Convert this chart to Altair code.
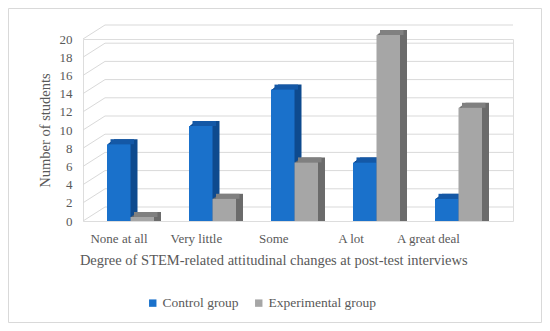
import altair as alt
import pandas as pd

categories = ["None at all", "Very little", "Some", "A lot", "A great deal"]
groups = ["Control group", "Experimental group"]
control = [8, 10, 14, 6, 2]
experimental = [0, 2, 6, 20, 12]
y_ticks = [0, 2, 4, 6, 8, 10, 12, 14, 16, 18, 20]

front_colors = ["#1A71CB", "#A6A6A6"]
top_colors = ["#1458A6", "#808080"]
side_colors = ["#0E4A8E", "#6B6B6B"]

rows = []
for c, a, b in zip(categories, control, experimental):
    rows.append({"category": c, "group": groups[0], "value": a})
    rows.append({"category": c, "group": groups[1], "value": b})
df = pd.DataFrame(rows)
grid = pd.DataFrame({"v": y_ticks})
labels_df = pd.DataFrame({"category": categories})
one = pd.DataFrame({"a": [0]})

FONT = "Liberation Serif"
TXT = "#595959"
GRID = "#D9D9D9"

W, H = 430, 182
PAD_L, PAD_T = 75, 31
TOTAL_W, TOTAL_H = 534, 315
DEPTH_X, DEPTH_Y = 22, 14
BASE = -4
BDX, BDY = 7, 5

yscale = alt.Scale(domain=[0, 20], nice=False, zero=True)
xscales = [
    alt.Scale(domain=categories, range=[24, 375.5], paddingInner=0.7134, paddingOuter=0),
    alt.Scale(domain=categories, range=[47.5, 399], paddingInner=0.7134, paddingOuter=0),
]
label_scale = alt.Scale(domain=categories, range=[-3.2, 383.7], paddingInner=0, paddingOuter=0)


def yaxis():
    return alt.Axis(title="Number of students", values=y_ticks, domain=False, ticks=False,
                    grid=False, labelPadding=11, labelFontSize=13, titleFontSize=14.5,
                    titlePadding=7, labelColor=TXT, titleColor=TXT, labelFont=FONT,
                    titleFont=FONT, titleFontWeight="normal", orient="left")


def legend():
    return alt.Legend(title=None, orient="none", legendX=63, legendY=257, direction="horizontal",
                      symbolType="square", symbolSize=55, symbolStrokeWidth=0,
                      labelFontSize=13.5, labelFont=FONT, labelColor=TXT, columnPadding=13,
                      labelOffset=3)


layers = []

# outer border
layers.append(
    alt.Chart(one).mark_rect(fillOpacity=0, stroke=GRID, strokeWidth=1).encode(
        x=alt.value(-PAD_L + 0.5), x2=alt.value(TOTAL_W - PAD_L - 0.5),
        y=alt.value(-PAD_T + 0.5), y2=alt.value(TOTAL_H - PAD_T - 0.5),
    )
)

# back wall gridlines
layers.append(
    alt.Chart(grid).mark_rule(color=GRID, strokeWidth=1, yOffset=-DEPTH_Y).encode(
        x=alt.value(DEPTH_X), x2=alt.value(W),
        y=alt.Y("v:Q", scale=yscale, axis=yaxis()),
    )
)
# side wall diagonals
layers.append(
    alt.Chart(grid).mark_rule(color=GRID, strokeWidth=1, y2Offset=-DEPTH_Y).encode(
        x=alt.value(0), x2=alt.value(DEPTH_X),
        y=alt.Y("v:Q", scale=yscale, axis=yaxis()), y2=alt.Y2("v:Q"),
    )
)

# invisible layer carrying the category axis
layers.append(
    alt.Chart(labels_df).mark_point(opacity=0).encode(
        x=alt.X("category:N", sort=categories, scale=label_scale,
                axis=alt.Axis(title="Degree of STEM-related attitudinal changes at post-test interviews",
                              domain=False, ticks=False, labelAngle=0, labelPadding=11,
                              labelFontSize=13, titleFontSize=14.5, titlePadding=8,
                              labelColor=TXT, titleColor=TXT, labelFont=FONT, titleFont=FONT,
                              titleFontWeight="normal")),
        y=alt.value(0),
    )
)

for gi, g in enumerate(groups):
    d = df[df.group == g]
    sc = xscales[gi]
    xenc = alt.X("category:N", sort=categories, scale=sc, axis=None)
    for k in range(1, BDX + 1):
        off = BASE - k * BDY / BDX
        layers.append(
            alt.Chart(d).mark_bar(color=side_colors[gi], xOffset=k, x2Offset=k,
                                  yOffset=off, y2Offset=off).encode(
                x=xenc, y=alt.Y("value:Q", scale=yscale, axis=yaxis(), stack=None),
            )
        )
    layers.append(
        alt.Chart(d).mark_bar(color=top_colors[gi], xOffset=BDX / 2, x2Offset=BDX / 2,
                              yOffset=BASE - BDY, y2Offset=BASE).encode(
            x=xenc, y=alt.Y("value:Q", scale=yscale, axis=yaxis(), stack=None),
            y2=alt.Y2("value:Q"),
        )
    )
    layers.append(
        alt.Chart(d).mark_bar(yOffset=BASE, y2Offset=BASE).encode(
            x=xenc, y=alt.Y("value:Q", scale=yscale, axis=yaxis(), stack=None),
            color=alt.Color("group:N", scale=alt.Scale(domain=groups, range=front_colors),
                            legend=legend()),
        )
    )

chart = alt.layer(*layers).resolve_scale(x="independent").properties(
    width=W, height=H,
    autosize=alt.AutoSizeParams(type="none"),
    padding={"left": PAD_L, "top": PAD_T, "right": TOTAL_W - PAD_L - W, "bottom": TOTAL_H - PAD_T - H},
).configure_view(stroke=None).configure(font=FONT).configure_legend(
    labelFont=FONT, labelFontSize=13.5, labelColor=TXT
).configure_axis(labelFont=FONT, titleFont=FONT, titleFontWeight="normal")

chart.save("out.html", embed_options={"renderer": "svg", "actions": False})
